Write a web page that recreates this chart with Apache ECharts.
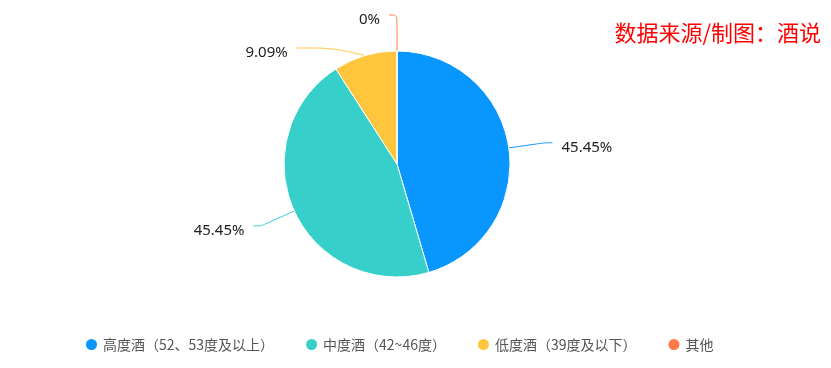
<!DOCTYPE html>
<html><head><meta charset="utf-8">
<script src="https://cdn.jsdelivr.net/npm/echarts@6/dist/echarts.min.js"></script>
<style>html,body{margin:0;padding:0;background:#fff}#c{width:831px;height:368px}</style>
</head><body><div id="c"></div>
<script>
const categories = ['高度酒（52、53度及以上）','中度酒（42~46度）','低度酒（39度及以下）','其他'];
const values = [5, 5, 1, 0];
const colors = ['#0A96FF','#36CFC9','#FFC53D','#FF7A45'];
const total = values.reduce((a, b) => a + b, 0);
const chart = echarts.init(document.getElementById('c'));
chart.setOption({
  color: colors,
  title: {text: '数据来源/制图：酒说', right: 5, top: 17,
    textStyle: {color: '#ff0000', fontSize: 22, fontWeight: 'normal', fontFamily: 'Noto Sans CJK SC'}},
  legend: {bottom: 11, left: 79, icon: 'circle', itemWidth: 13, itemHeight: 13, itemGap: 30,
    textStyle: {color: '#555', fontSize: 14, fontFamily: 'Noto Sans CJK SC'}},
  series: [{
    type: 'pie', center: [397, 164], radius: [0, 113], startAngle: 90,
    avoidLabelOverlap: true,
    data: categories.map((n, i) => ({name: n, value: values[i]})),
    itemStyle: {borderColor: '#fff', borderWidth: 1},
    label: {formatter: p => {const v = p.value / total * 100; return '{a|' + (v === 0 ? '0' : v.toFixed(2)) + '%}';},
      rich: {a: {color: '#222', fontSize: 15, fontFamily: 'Noto Sans', padding: [9, 4, 0, 4]}}},
    labelLine: {length: 36, length2: 8, smooth: 0.3},
    // push the small slice's label below the zero-slice label (overlap avoidance)
    labelLayout: function (p) {
      if (p.dataIndex !== 2 || !p.labelLinePoints) return {};
      const pts = p.labelLinePoints, dx = -28, dy = 16;
      return {dx: dx, dy: dy, labelLinePoints: [pts[0], [pts[1][0], pts[1][1] + dy], [pts[2][0] + dx, pts[2][1] + dy]]};
    }
  }]
});
</script></body></html>
